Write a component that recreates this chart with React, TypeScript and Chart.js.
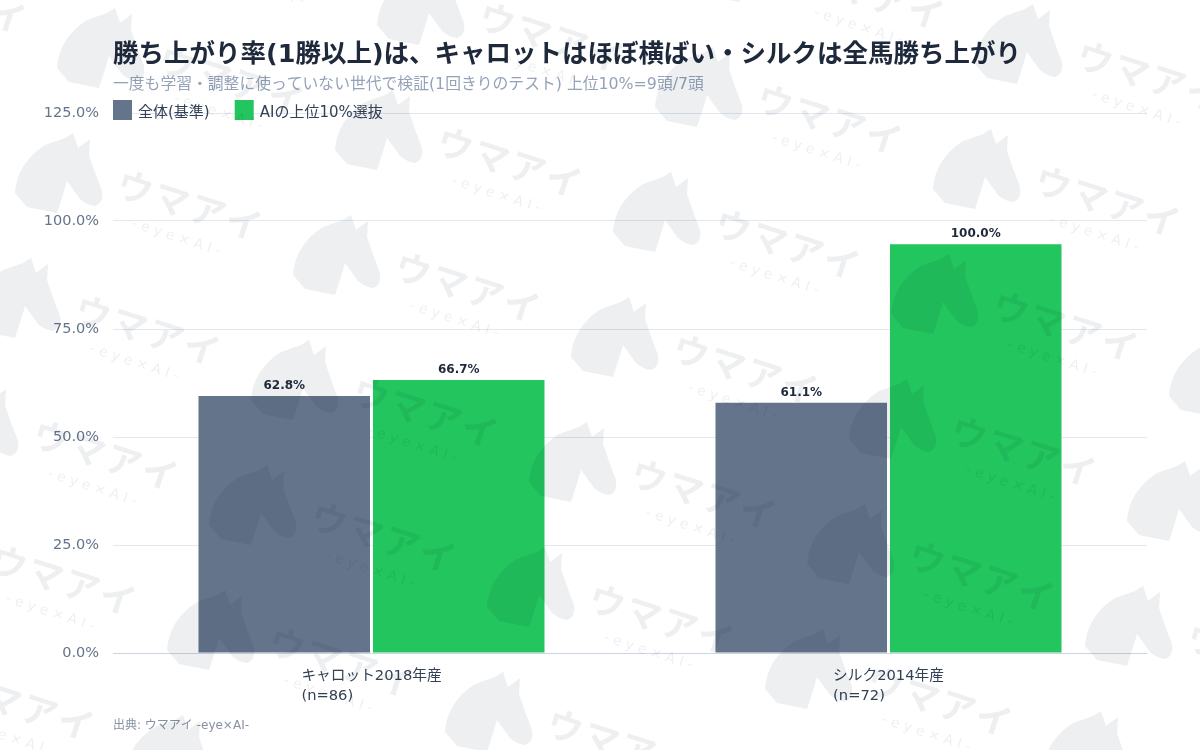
import React, { useEffect, useRef } from 'react';
import { Chart, registerables } from 'chart.js';

Chart.register(...registerables);

const FONT = '"DejaVu Sans", "Noto Sans CJK JP", sans-serif';
const CJK = '"Noto Sans CJK JP", "DejaVu Sans", sans-serif';

// ---- data ----
const titleText = '勝ち上がり率(1勝以上)は、キャロットはほぼ横ばい・シルクは全馬勝ち上がり';
const subtitleText = '一度も学習・調整に使っていない世代で検証(1回きりのテスト) 上位10%=9頭/7頭';
const sourceText = '出典: ウマアイ -eye×AI-';
const categoryLines = [
  ['キャロット2018年産', '(n=86)'],
  ['シルク2014年産', '(n=72)'],
];
const seriesNames = ['全体(基準)', 'AIの上位10%選抜'];
const seriesColors = ['#64748b', '#22c55e'];
// bar heights as read against the y axis
const baseValues = [59.5, 57.9];
const aiValues = [63.2, 94.6];
// value labels printed above the bars
const baseLabels = ['62.8%', '61.1%'];
const aiLabels = ['66.7%', '100.0%'];
const yMin = 0;
const yMax = 125;
const yStep = 25;
const watermarkMain = 'ウマアイ';
const watermarkSub = '-eye×AI-';

function drawHorse(ctx: CanvasRenderingContext2D, x: number, y: number) {
  ctx.save();
  ctx.translate(x, y);
  ctx.beginPath();
  ctx.moveTo(0, 60);
  ctx.quadraticCurveTo(2, 30, 30, 12);
  ctx.lineTo(50, 5);
  ctx.lineTo(58, 0);
  ctx.lineTo(63, 15);
  ctx.lineTo(75, 6);
  ctx.lineTo(74, 22);
  ctx.quadraticCurveTo(80, 40, 87, 58);
  ctx.quadraticCurveTo(89, 70, 80, 73);
  ctx.quadraticCurveTo(72, 72, 65, 66);
  ctx.lineTo(52, 48);
  ctx.quadraticCurveTo(48, 62, 42, 80);
  ctx.lineTo(12, 74);
  ctx.closePath();
  ctx.fill();
  ctx.restore();
}

const overlayPlugin = {
  id: 'overlay',
  afterDatasetsDraw(chart: any) {
    const ctx: CanvasRenderingContext2D = chart.ctx;
    ctx.save();
    ctx.font = `bold 12px ${FONT}`;
    ctx.fillStyle = '#1e293b';
    ctx.textAlign = 'center';
    ctx.textBaseline = 'alphabetic';
    chart.data.datasets.forEach((ds: any, di: number) => {
      const meta = chart.getDatasetMeta(di);
      meta.data.forEach((el: any, i: number) => {
        ctx.fillText(ds.valueLabels[i], el.x, el.y - 7);
      });
    });
    ctx.restore();
  },
  afterDraw(chart: any) {
    const ctx: CanvasRenderingContext2D = chart.ctx;
    const area = chart.chartArea;
    const left = area.left;
    ctx.save();
    // title
    ctx.textAlign = 'left';
    ctx.textBaseline = 'alphabetic';
    ctx.fillStyle = '#1e293b';
    ctx.font = `bold 25.5px ${FONT}`;
    ctx.fillText(titleText, left, 62);
    // subtitle
    ctx.fillStyle = '#94a3b8';
    ctx.font = `15.8px ${FONT}`;
    ctx.fillText(subtitleText, left, 89);
    // legend
    ctx.font = `15px ${FONT}`;
    let lx = left;
    chart.data.datasets.forEach((ds: any) => {
      ctx.fillStyle = ds.backgroundColor;
      ctx.fillRect(lx, 100, 19, 20);
      ctx.fillStyle = '#334155';
      ctx.fillText(ds.label, lx + 25, 117);
      lx += 25 + ctx.measureText(ds.label).width + 25;
    });
    // x category labels
    const xs = chart.scales.x;
    ctx.font = `14.7px ${FONT}`;
    ctx.fillStyle = '#334155';
    ctx.textBaseline = 'middle';
    categoryLines.forEach((lines, i) => {
      const cx = xs.getPixelForValue(i);
      const w = ctx.measureText(lines[0]).width;
      const sx = cx - w / 2;
      lines.forEach((ln, k) => ctx.fillText(ln, sx, area.bottom + 23 + k * 20));
    });
    // source
    ctx.textBaseline = 'alphabetic';
    ctx.fillStyle = '#8591a3';
    ctx.font = `12px ${FONT}`;
    ctx.fillText(sourceText, left, 729);
    ctx.restore();

    // watermark
    ctx.save();
    ctx.fillStyle = 'rgba(15,23,42,0.072)';
    const ang = (18 * Math.PI) / 180;
    for (let i = -3; i <= 8; i++) {
      for (let j = -2; j <= 5; j++) {
        const x = 335 - 42 * i + 320 * j;
        const y = 90 + 125 * i - 43 * j;
        if (x < -260 || x > 1220 || y < -120 || y > 780) continue;
        drawHorse(ctx, x, y);
        ctx.save();
        ctx.translate(x + 99, y + 62);
        ctx.rotate(ang);
        ctx.textAlign = 'left';
        ctx.textBaseline = 'alphabetic';
        ctx.font = `bold 36px ${CJK}`;
        (ctx as any).letterSpacing = '2px';
        ctx.fillText(watermarkMain, 0, 0);
        ctx.font = `14px ${FONT}`;
        (ctx as any).letterSpacing = '4.5px';
        ctx.fillText(watermarkSub, 26, 25);
        ctx.restore();
      }
    }
    ctx.restore();
  },
};

export default function App() {
  const ref = useRef<HTMLCanvasElement | null>(null);
  useEffect(() => {
    document.body.style.margin = '0';
    if (!ref.current) return;
    Chart.defaults.font.family = FONT;
    const chart = new Chart(ref.current, {
      type: 'bar',
      data: {
        labels: categoryLines.map((l) => l.join(' ')),
        datasets: [
          { label: seriesNames[0], data: baseValues, backgroundColor: seriesColors[0], valueLabels: baseLabels } as any,
          { label: seriesNames[1], data: aiValues, backgroundColor: seriesColors[1], valueLabels: aiLabels } as any,
        ],
      },
      options: {
        animation: false,
        responsive: false,
        devicePixelRatio: 1,
        layout: { padding: { left: 0, right: 53, top: 113, bottom: 97 } },
        datasets: { bar: { categoryPercentage: 0.675, barPercentage: 0.983 } },
        plugins: {
          legend: { display: false },
          title: { display: false },
          tooltip: { enabled: false },
        },
        scales: {
          x: {
            grid: { display: false },
            border: { display: false },
            ticks: { display: false },
            afterFit: (s: any) => {
              s.height = 0;
            },
          },
          y: {
            min: yMin,
            max: yMax,
            border: { display: false },
            grid: {
              drawTicks: false,
              color: (c: any) => (c.tick && c.tick.value === 0 ? '#cbd5e1' : '#e2e8f0'),
              lineWidth: 1,
            },
            ticks: {
              stepSize: yStep,
              padding: 14,
              color: '#64748b',
              font: { size: 14.5, family: FONT },
              callback: (v: any) => Number(v).toFixed(1) + '%',
            },
            afterFit: (s: any) => {
              s.width = 113;
            },
          },
        },
      } as any,
      plugins: [overlayPlugin],
    });
    return () => chart.destroy();
  }, []);
  return (
    <div style={{ width: 1200, height: 750, position: 'relative', background: '#ffffff' }}>
      <canvas ref={ref} width={1200} height={750} style={{ display: 'block' }} />
    </div>
  );
}
